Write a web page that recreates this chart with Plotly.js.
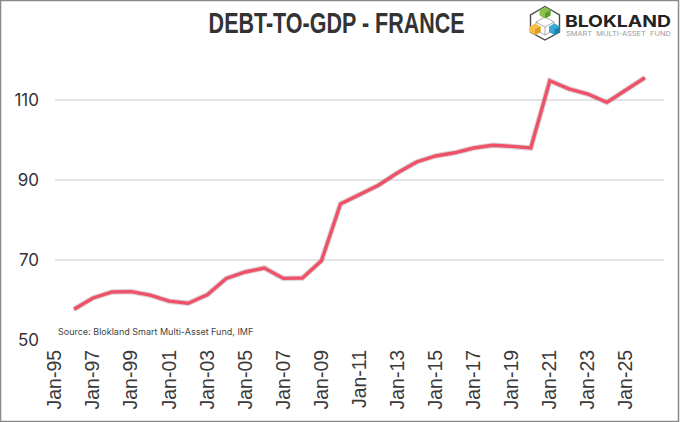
<!DOCTYPE html>
<html><head><meta charset="utf-8">
<script src="https://cdn.plot.ly/plotly-3.0.1.min.js"></script>
<style>html,body{margin:0;padding:0;background:#fff}#c{width:680px;height:422px}</style></head>
<body><div id="c"></div>
<script>
const categories = ["Jan-95","Jan-96","Jan-97","Jan-98","Jan-99","Jan-00","Jan-01","Jan-02","Jan-03","Jan-04","Jan-05","Jan-06","Jan-07","Jan-08","Jan-09","Jan-10","Jan-11","Jan-12","Jan-13","Jan-14","Jan-15","Jan-16","Jan-17","Jan-18","Jan-19","Jan-20","Jan-21","Jan-22","Jan-23","Jan-24","Jan-25","Jan-26","Jan-27"];
const debtToGdp = [null,57.7,60.5,62,62.1,61.2,59.7,59.2,61.3,65.4,67,68,65.4,65.5,69.8,84,86.3,88.7,91.8,94.5,96,96.8,98,98.7,98.4,98,114.8,112.8,111.5,109.4,112.5,115.6,null];
const xTicks = ["Jan-95","Jan-97","Jan-99","Jan-01","Jan-03","Jan-05","Jan-07","Jan-09","Jan-11","Jan-13","Jan-15","Jan-17","Jan-19","Jan-21","Jan-23","Jan-25"];
const yTicks = [50,70,90,110];
const titleText = "DEBT-TO-GDP - FRANCE";
const sourceText = "Source: Blokland Smart Multi-Asset Fund, IMF";
const brandText = "BLOKLAND";
const taglineText = "SMART  MULTI-ASSET  FUND";

const L=55,R=16,T=40,B=82,W=680,H=422;
const px=v=>(v-L)/(W-L-R), py=v=>(H-B-v)/(H-T-B);

const logo = `<svg xmlns="http://www.w3.org/2000/svg" width="152" height="152" viewBox="0 0 38 38">
<path d="M19 2.5 L33.5 11 L33.5 28 L19 36 L4.5 28 L4.5 11 Z" fill="none" stroke="#4a4a4a" stroke-width="1.4"/>
<path d="M19 13 L28 18 L28 26 L19 31 L10 26 L10 18 Z M10 18 L19 23 L28 18 M19 23 L19 31" fill="none" stroke="#777" stroke-width="0.6"/>
<path d="M19 3 L24.5 6 L24.5 11.5 L19 14.5 L13.5 11.5 L13.5 6 Z" fill="#8bc34a"/><path d="M19 9 L24.5 6 L24.5 11.5 L19 14.5 Z" fill="#5b9a2e"/>
<path d="M9 19.5 L14.5 22.5 L14.5 28 L9 31 L3.5 28 L3.5 22.5 Z" fill="#f7bd45"/><path d="M9 25.5 L14.5 22.5 L14.5 28 L9 31 Z" fill="#e09c20"/>
<path d="M28.5 19.5 L34 22.5 L34 28 L28.5 31 L23 28 L23 22.5 Z" fill="#37a9d2"/><path d="M28.5 25.5 L34 22.5 L34 28 L28.5 31 Z" fill="#1f80a8"/>
</svg>`;

Plotly.newPlot("c",[
 {x:categories,y:debtToGdp,type:"scatter",mode:"lines",hoverinfo:"skip",line:{color:"rgba(120,100,105,0.28)",width:5.5,shape:"linear"}},
 {x:categories,y:debtToGdp,type:"scatter",mode:"lines",line:{color:"#EE5168",width:3.4,shape:"linear"}}
],{
 width:W,height:H,showlegend:false,paper_bgcolor:"#fff",plot_bgcolor:"#fff",
 margin:{l:L,r:R,t:T,b:B,pad:0},
 font:{family:"Inter, Arial, sans-serif",color:"#333"},
 xaxis:{type:"category",categoryorder:"array",categoryarray:categories,range:[0,32],tickmode:"array",tickvals:xTicks,ticktext:xTicks,
   tickangle:-90,tickfont:{family:"Liberation Sans, Arial, sans-serif",size:19.5,color:"#3a3a3a"},showgrid:false,zeroline:false,showline:false,ticks:"",ticklabelstandoff:5},
 yaxis:{range:[50,125],tickmode:"array",tickvals:yTicks,ticktext:yTicks.map(String),tickfont:{family:"Inter, sans-serif",size:17,color:"#333"},
   showgrid:true,gridcolor:"#e4e4e4",gridwidth:1.3,zeroline:false,showline:false,ticks:"",ticklabelstandoff:15},
 annotations:[
  {text:"<b>"+titleText+"</b>",xref:"paper",yref:"paper",x:px(336),y:py(22.5),xanchor:"center",yanchor:"middle",showarrow:false,
   font:{family:"Liberation Sans, Arial, sans-serif",size:30,color:"#333"}},
  {text:sourceText,xref:"paper",yref:"paper",x:px(56),y:py(331),xanchor:"left",yanchor:"middle",showarrow:false,
   font:{family:"Inter, sans-serif",size:9,color:"#444"}},
  {text:"<b>"+brandText+"</b>",xref:"paper",yref:"paper",x:px(618),y:py(21),xanchor:"center",yanchor:"middle",showarrow:false,
   font:{family:"Inter, sans-serif",size:16,color:"#222"}},
  {text:taglineText,xref:"paper",yref:"paper",x:px(618.5),y:py(34),xanchor:"center",yanchor:"middle",showarrow:false,
   font:{family:"Inter, sans-serif",size:6,color:"#999"}}
 ],
 images:[{source:"data:image/svg+xml;utf8,"+encodeURIComponent(logo),xref:"paper",yref:"paper",x:px(526),y:py(4),sizex:38/(W-L-R),sizey:38/(H-T-B),xanchor:"left",yanchor:"top",layer:"above"}],
 shapes:[{type:"rect",xref:"paper",yref:"paper",x0:px(0.5),x1:px(678.5),y0:py(0.5),y1:py(421.5),line:{color:"#8a8a8a",width:1.5},fillcolor:"rgba(0,0,0,0)",layer:"above"}]
},{staticPlot:true,displayModeBar:false}).then(()=>{
  const fits={[titleText]:256,[brandText]:106,[taglineText]:105};
  document.querySelectorAll("#c .annotation-text").forEach(t=>{
    const f=fits[t.textContent]; if(!f) return;
    t.setAttribute("lengthAdjust","spacingAndGlyphs");
    t.setAttribute("textLength",f);
    t.querySelectorAll("tspan").forEach(s=>{s.setAttribute("lengthAdjust","spacingAndGlyphs");s.setAttribute("textLength",f);});
  });
});
</script></body></html>
